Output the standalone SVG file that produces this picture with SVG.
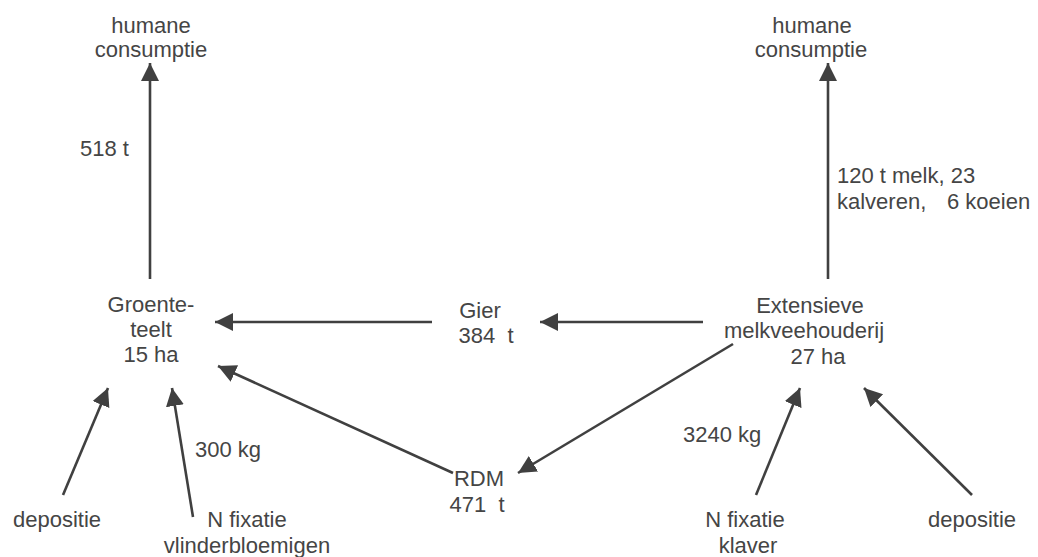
<svg xmlns="http://www.w3.org/2000/svg" width="1038" height="557" viewBox="0 0 1038 557">
<style>
text{font-family:"Liberation Sans",Arial,sans-serif;font-size:22px;fill:#454545}
.c{text-anchor:middle}
.ln{stroke:#404040;stroke-width:2.6;fill:none;marker-end:url(#ah)}
</style>
<defs>
<marker id="ah" markerUnits="userSpaceOnUse" markerWidth="20" markerHeight="20" viewBox="0 0 20 20" refX="18" refY="9" orient="auto">
<path d="M0,0 L18,9 L0,18 z" fill="#404040"/>
</marker>
</defs>
<rect width="1038" height="557" fill="#fff"/>
<g id="connectors">
<line class="ln" x1="150" y1="279" x2="150" y2="63"/>
<line class="ln" x1="828" y1="279" x2="828" y2="63"/>
<line class="ln" x1="432" y1="322" x2="215" y2="322"/>
<line class="ln" x1="703" y1="322" x2="540" y2="322"/>
<line class="ln" x1="453" y1="473" x2="218" y2="366"/>
<line class="ln" x1="733" y1="344" x2="518" y2="473"/>
<line class="ln" x1="63" y1="495" x2="108" y2="388"/>
<line class="ln" x1="193" y1="517" x2="172" y2="388"/>
<line class="ln" x1="756" y1="495" x2="800" y2="388"/>
<line class="ln" x1="972" y1="495" x2="864" y2="388"/>
</g>
<g id="label-518"><text x="80" y="156">518 t</text></g>
<g id="label-120"><text x="837" y="183">120 t melk, 23</text><text x="837" y="209">kalveren,<tspan x="947">6 koeien</tspan></text></g>
<g id="label-300"><text x="195" y="457">300 kg</text></g>
<g id="label-3240"><text x="683" y="442">3240 kg</text></g>
<g id="hc-left"><text class="c" x="151" y="33">humane</text><text class="c" x="151" y="57">consumptie</text></g>
<g id="hc-right"><text class="c" x="812" y="33">humane</text><text class="c" x="811" y="57">consumptie</text></g>
<g id="groenteteelt"><text class="c" x="151" y="312">Groente-</text><text class="c" x="151" y="337">teelt</text><text class="c" x="151" y="362">15 ha</text></g>
<g id="gier"><text class="c" x="480" y="318">Gier</text><text class="c" x="486" y="343" xml:space="preserve">384  t</text></g>
<g id="melkvee"><text class="c" x="810" y="313">Extensieve</text><text class="c" x="804" y="338">melkveehouderij</text><text class="c" x="818" y="364">27 ha</text></g>
<g id="rdm"><text class="c" x="479" y="486">RDM</text><text class="c" x="477" y="512" xml:space="preserve">471  t</text></g>
<g id="depositie-left"><text class="c" x="57" y="527">depositie</text></g>
<g id="nfix-left"><text class="c" x="247" y="527">N fixatie</text><text class="c" x="247" y="553">vlinderbloemigen</text></g>
<g id="nfix-right"><text class="c" x="745" y="527">N fixatie</text><text class="c" x="748" y="553">klaver</text></g>
<g id="depositie-right"><text class="c" x="972" y="527">depositie</text></g>
</svg>
